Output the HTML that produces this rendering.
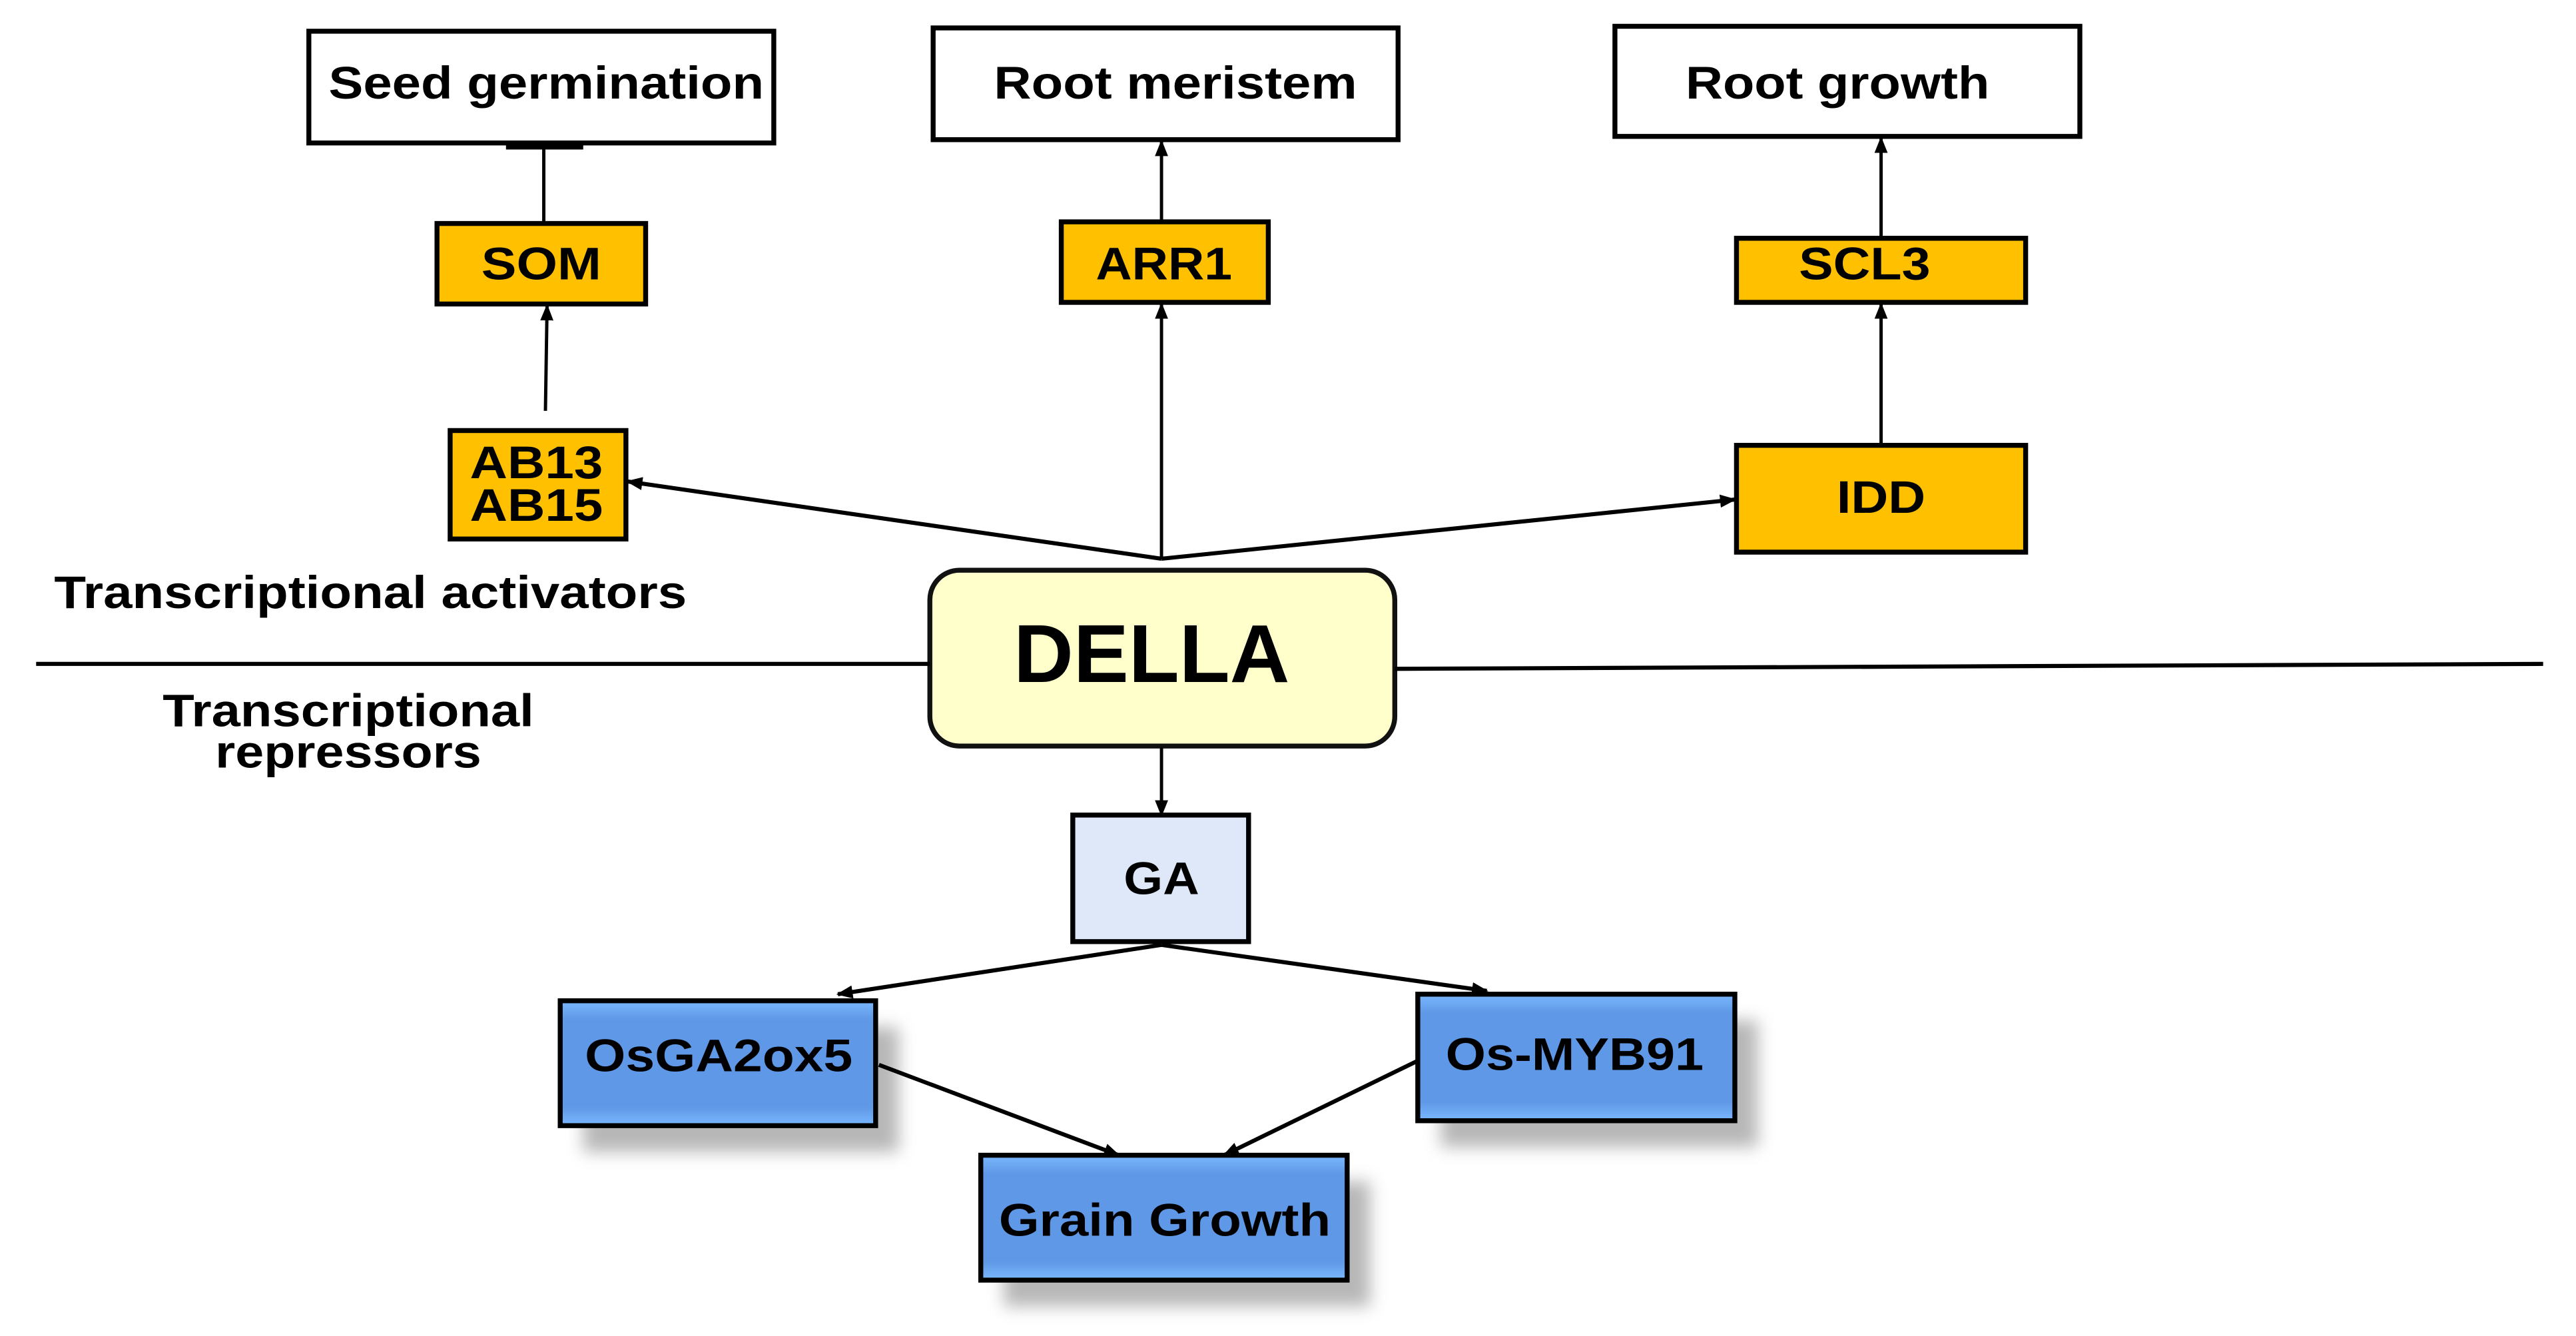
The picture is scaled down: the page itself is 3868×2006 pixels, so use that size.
<!DOCTYPE html>
<html><head><style>html,body{margin:0;padding:0;background:#fff}svg{display:block}</style></head><body>
<svg width="3868" height="2006" viewBox="0 0 1568 813" preserveAspectRatio="none" xmlns="http://www.w3.org/2000/svg" font-family="Liberation Sans, sans-serif" font-weight="bold">
<defs>
<marker id="a" markerWidth="10" markerHeight="8" refX="9" refY="4" orient="auto" markerUnits="userSpaceOnUse"><path d="M0,0 L10,4 L0,8 z" fill="#000"/></marker>
<linearGradient id="b" x1="0" y1="0" x2="0" y2="1"><stop offset="0" stop-color="#7ab8ff"/><stop offset="0.15" stop-color="#5f98e6"/><stop offset="0.85" stop-color="#5f98e6"/><stop offset="1" stop-color="#7ab8ff"/></linearGradient>
<filter id="s" x="-20%" y="-20%" width="150%" height="160%"><feGaussianBlur stdDeviation="5"/></filter>
</defs>
<g fill="#fff" stroke="#000" stroke-width="3">
<rect x="188" y="19" width="283" height="68"/>
<rect x="568" y="17" width="283" height="68"/>
<rect x="983" y="16" width="283" height="67"/>
</g>
<g fill="#FFC000" stroke="#000" stroke-width="3">
<rect x="266" y="136" width="127" height="49"/>
<rect x="646" y="135" width="126" height="49"/>
<rect x="1057" y="145" width="176" height="39"/>
<rect x="274" y="262" width="107" height="66"/>
<rect x="1057" y="271" width="176" height="65"/>
</g>
<rect x="566" y="347" width="283" height="107" rx="18" fill="#FFFFCC" stroke="#111" stroke-width="3"/>
<rect x="653" y="496" width="107" height="77" fill="#DEE8F8" stroke="#000" stroke-width="3"/>
<g fill="#999" opacity="0.7" filter="url(#s)">
<rect x="355" y="625" width="192" height="76"/>
<rect x="877" y="621" width="193" height="77"/>
<rect x="611" y="719" width="223" height="76"/>
</g>
<g fill="url(#b)" stroke="#000" stroke-width="3">
<rect x="341" y="609" width="192" height="76"/>
<rect x="863" y="605" width="193" height="77"/>
<rect x="597" y="703" width="223" height="76"/>
</g>
<g stroke="#000" fill="none">
<line x1="22" y1="404" x2="566" y2="404" stroke-width="2.5"/>
<line x1="849" y1="407" x2="1548" y2="404" stroke-width="2.5"/>
<line x1="331" y1="136" x2="331" y2="90" stroke-width="2"/>
<line x1="308" y1="89" x2="355" y2="89" stroke-width="4"/>
<line x1="332" y1="250" x2="333" y2="186" stroke-width="2" marker-end="url(#a)"/>
<line x1="707" y1="135" x2="707" y2="86" stroke-width="2" marker-end="url(#a)"/>
<line x1="707" y1="340" x2="707" y2="185" stroke-width="2" marker-end="url(#a)"/>
<line x1="707" y1="340" x2="382" y2="293" stroke-width="2.5" marker-end="url(#a)"/>
<line x1="707" y1="340" x2="1056" y2="304" stroke-width="2.5" marker-end="url(#a)"/>
<line x1="1145" y1="145" x2="1145" y2="84" stroke-width="2" marker-end="url(#a)"/>
<line x1="1145" y1="271" x2="1145" y2="185" stroke-width="2" marker-end="url(#a)"/>
<line x1="707" y1="455" x2="707" y2="496" stroke-width="2" marker-end="url(#a)"/>
<line x1="707" y1="575" x2="510" y2="605" stroke-width="2.5" marker-end="url(#a)"/>
<line x1="707" y1="575" x2="905" y2="603" stroke-width="2.5" marker-end="url(#a)"/>
<line x1="535" y1="648" x2="681" y2="703" stroke-width="2.5" marker-end="url(#a)"/>
<line x1="862" y1="646" x2="745" y2="703" stroke-width="2.5" marker-end="url(#a)"/>
</g>
<g fill="#000" font-size="28" lengthAdjust="spacingAndGlyphs">
<text x="200" y="60" textLength="265" lengthAdjust="spacingAndGlyphs">Seed germination</text>
<text x="605" y="60" textLength="221" lengthAdjust="spacingAndGlyphs">Root meristem</text>
<text x="1026" y="60" textLength="185" lengthAdjust="spacingAndGlyphs">Root growth</text>
<text x="293" y="170" textLength="73" lengthAdjust="spacingAndGlyphs">SOM</text>
<text x="667" y="170" textLength="83" lengthAdjust="spacingAndGlyphs">ARR1</text>
<text x="1095" y="170" textLength="80" lengthAdjust="spacingAndGlyphs">SCL3</text>
<text x="286" y="291" textLength="81" lengthAdjust="spacingAndGlyphs">AB13</text>
<text x="286" y="317" textLength="81" lengthAdjust="spacingAndGlyphs">AB15</text>
<text x="1118" y="312" textLength="54" lengthAdjust="spacingAndGlyphs">IDD</text>
<text x="33" y="370" textLength="385" lengthAdjust="spacingAndGlyphs">Transcriptional activators</text>
<text x="99" y="442" textLength="226" lengthAdjust="spacingAndGlyphs">Transcriptional</text>
<text x="131" y="467" textLength="162" lengthAdjust="spacingAndGlyphs">repressors</text>
<text x="684" y="544" textLength="46" lengthAdjust="spacingAndGlyphs">GA</text>
<text x="356" y="652" textLength="163" lengthAdjust="spacingAndGlyphs">OsGA2ox5</text>
<text x="880" y="651" textLength="157" lengthAdjust="spacingAndGlyphs">Os-MYB91</text>
<text x="608" y="752" textLength="202" lengthAdjust="spacingAndGlyphs">Grain Growth</text>
<text x="617" y="415" font-size="50" textLength="168" lengthAdjust="spacingAndGlyphs">DELLA</text>
</g>
</svg>
</body></html>
